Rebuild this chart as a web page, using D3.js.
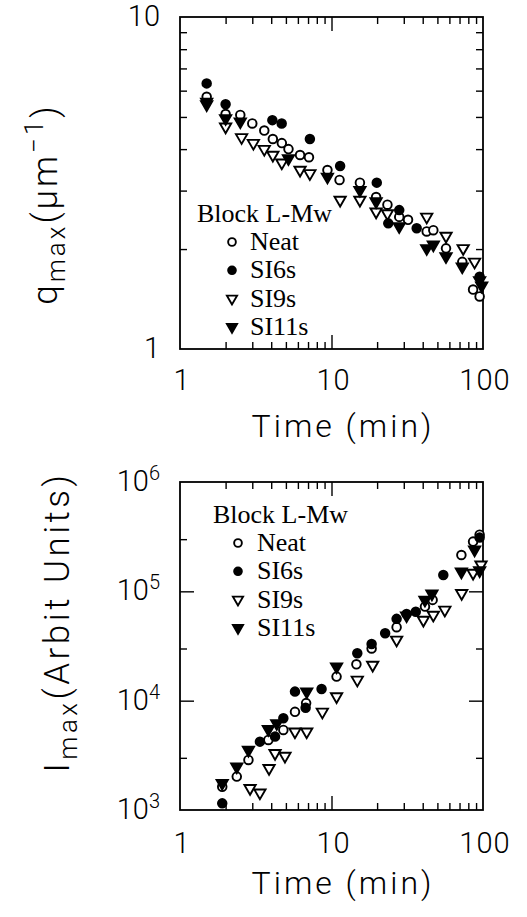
<!DOCTYPE html>
<html>
<head>
<meta charset="utf-8">
<script src="https://cdn.jsdelivr.net/npm/d3@7/dist/d3.min.js"></script>
<style>
  body { margin: 0; background: #fff; }
  text { fill: #000; }
</style>
</head>
<body>
<svg id="chart" width="527" height="917"></svg>
<script>
// top panel: [time (min), q_max (um^-1)]
const qNeat = [[1.5,5.75],[2,5.1],[2.5,5.07],[3,4.78],[3.6,4.55],[4.1,4.29],[4.7,4.17],[5.2,4.0],[6.2,3.84],[7.1,3.78],[9.4,3.46],[11.3,3.23],[15.4,3.17],[19.7,2.87],[23.4,2.72],[28,2.5],[32,2.45],[42.5,2.26],[47,2.28],[57,2.01],[73,1.83],[86,1.51],[95,1.44]];
const qSI6s = [[1.5,6.31],[2,5.46],[4.07,4.89],[4.69,4.78],[7.2,4.29],[11.4,3.56],[19.9,3.17],[23.7,2.39],[28,2.62],[36.5,2.31],[95,1.65]];
const qSI9s = [[1.5,5.45],[2,4.67],[2.55,4.34],[3.05,4.17],[3.6,4.0],[4.1,3.84],[4.7,3.64],[6.2,3.46],[7.2,3.38],[11.4,2.81],[15.4,2.81],[19.7,2.59],[23.4,2.56],[42.5,2.5],[57,2.19],[74,2.01],[88,1.83]];
const qSI11s = [[1.5,5.55],[2,4.95],[2.5,4.84],[5.2,3.75],[9.4,3.3],[15.4,3.01],[19.7,2.78],[28,2.34],[42.5,2.01],[47,2.06],[57,1.9],[73,1.77],[95,1.61],[98,1.55]];

// bottom panel: [time (min), I_max (arbit units)]
const iNeat = [[1.9,1630],[2.37,2020],[2.83,2870],[3.83,4370],[4.81,5400],[5.74,7900],[6.8,9500],[10.8,16600],[14.6,21500],[18.4,30000],[26.9,47000],[41.4,72500],[46.5,83500],[72,215000],[86,285000],[95,330000]];
const iSI6s = [[1.9,1150],[3.37,4220],[4.24,4690],[4.81,6900],[5.74,12100],[6.75,8600],[8.6,12800],[14.8,27100],[18.4,33000],[22.6,41400],[26.9,56000],[31.3,62000],[36,65000],[54.7,141000],[95,310000]];
const iSI9s = [[2.9,1580],[3.37,1440],[3.87,2410],[4.24,3300],[4.93,3120],[5.74,5200],[6.86,5200],[8.7,7900],[10.8,10900],[14.8,15500],[18.7,21200],[26.9,36000],[40.4,54700],[47,60800],[56,67600],[72.3,96000],[86,147000],[97,175000]];
const iSI11s = [[1.9,1760],[2.37,2490],[2.83,3540],[3.83,5470],[4.35,6200],[6.86,12100],[10.8,20500],[31.3,60000],[41.4,83500],[46,95000],[72,151000],[88,240000],[95,155000]];

const seriesNames = ["Neat", "SI6s", "SI9s", "SI11s"];
const seriesShapes = ["circle", "circle", "triangle", "triangle"];
const seriesFilled = [false, true, false, true];
const legendTitle = "Block L-Mw";

const xTickLabels = [1, 10, 100];
const xMinor = [2,3,4,5,6,7,8,9,20,30,40,50,60,70,80,90];
const xMajor = [10];
const qTickLabels = [1, 10];
const qMinor = [2,3,4,5,6,7,8,9];
const iTickLabels = [1e3, 1e4, 1e5, 1e6];
const iMinor = [3e3, 3e4, 3e5];
const iMajor = [1e4, 1e5];

const svg = d3.select("#chart");
const sans = "Roboto, 'Liberation Sans', Arial, sans-serif";
const serif = "'Liberation Serif', 'Times New Roman', serif";

function marker(g, shape, filled, x, y, s) {
  if (shape === "circle") {
    g.append("circle")
      .attr("cx", x).attr("cy", y).attr("r", 4.3 * s)
      .attr("fill", filled ? "#000" : "#fff")
      .attr("stroke", "#000").attr("stroke-width", 1.9);
  } else {
    g.append("path")
      .attr("d", d3.symbol(d3.symbolTriangle, 55 * s * s)())
      .attr("transform", `translate(${x},${y}) rotate(180)`)
      .attr("fill", filled ? "#000" : "#fff")
      .attr("stroke", "#000").attr("stroke-width", 1.9)
      .attr("stroke-linejoin", "miter");
  }
}

function drawPanel(p) {
  const x = d3.scaleLog().domain([1, 100]).range([180, 483]);
  const y = d3.scaleLog().domain(p.yDomain).range([p.bottom, p.top]);
  const g = svg.append("g");

  // inward ticks on all four sides
  const tick = (axis, tf) => g.append("g").attr("transform", tf).call(axis)
    .call(a => a.select(".domain").remove())
    .call(a => a.selectAll("line").attr("stroke", "#000").attr("stroke-width", 1.4))
    .call(a => a.selectAll("text").remove());
  [[xMinor, 7], [xMajor, 14]].forEach(([vals, len]) => {
    tick(d3.axisBottom(x).tickValues(vals).tickSize(-len), `translate(0,${p.bottom})`);
    tick(d3.axisTop(x).tickValues(vals).tickSize(-len), `translate(0,${p.top})`);
  });
  [[p.yMinor, 7], [p.yMajor, 14]].forEach(([vals, len]) => {
    if (!vals.length) return;
    tick(d3.axisLeft(y).tickValues(vals).tickSize(-len), `translate(180,0)`);
    tick(d3.axisRight(y).tickValues(vals).tickSize(-len), `translate(483,0)`);
  });

  g.append("rect")
    .attr("x", 180).attr("y", p.top)
    .attr("width", 303).attr("height", p.bottom - p.top)
    .attr("fill", "none").attr("stroke", "#000").attr("stroke-width", 1.8);

  // x tick labels
  g.selectAll(".xl").data(xTickLabels).enter().append("text")
    .attr("x", d => x(d) + 2).attr("y", p.bottom + p.xLabelOff)
    .attr("text-anchor", "middle")
    .style("font-family", sans).style("font-weight", 300)
    .style("font-size", "29px").style("letter-spacing", "1px")
    .text(d => d);

  g.append("text")
    .attr("x", 343).attr("y", p.bottom + p.xTitleOff)
    .attr("text-anchor", "middle")
    .style("font-family", sans).style("font-weight", 300)
    .style("font-size", "32px").style("letter-spacing", "3px")
    .text("Time (min)");

  // y tick labels
  p.yTickLabels.forEach(v => {
    const t = g.append("text")
      .attr("x", 160).attr("y", y(v) + 9)
      .attr("text-anchor", "end")
      .style("font-family", sans).style("font-weight", 300).style("font-size", "29px");
    if (p.power) {
      t.append("tspan").text("10");
      t.append("tspan").attr("dy", -11).style("font-size", "20px").text(Math.round(Math.log10(v)));
    } else {
      t.text(v);
    }
  });

  // y axis title
  const yt = g.append("text")
    .attr("transform", `translate(${p.yTitleX},${p.yTitleY}) rotate(-90)`)
    .attr("text-anchor", "middle")
    .style("font-family", sans).style("font-weight", 300)
    .style("font-size", "35px").style("letter-spacing", p.yTitleSpacing);
  p.yTitle(yt);

  // data
  const pts = g.append("g");
  p.series.forEach((data, i) => {
    data.forEach(d => marker(pts, seriesShapes[i], seriesFilled[i], x(d[0]), y(d[1]), 1));
  });

  // legend
  const lg = g.append("g");
  lg.append("text")
    .attr("x", p.legend.x).attr("y", p.legend.y)
    .style("font-family", serif).style("font-size", "26px")
    .text(legendTitle);
  seriesNames.forEach((name, i) => {
    const by = p.legend.y + 28 + i * 28.3;
    marker(lg, seriesShapes[i], seriesFilled[i], p.legend.mx, by - 8, 0.9);
    lg.append("text")
      .attr("x", p.legend.tx).attr("y", by)
      .style("font-family", serif).style("font-size", "26px")
      .text(name);
  });
}

drawPanel({
  top: 17, bottom: 349, yDomain: [1, 10],
  yMinor: qMinor, yMajor: [],
  yTickLabels: qTickLabels, power: false,
  series: [qNeat, qSI6s, qSI9s, qSI11s],
  xLabelOff: 41, xTitleOff: 88,
  yTitleX: 57, yTitleY: 204, yTitleSpacing: "3px",
  yTitle: t => {
    t.append("tspan").text("q");
    t.append("tspan").attr("dy", 8).style("font-size", "26px").text("max");
    t.append("tspan").attr("dy", -8).text("(\u03bcm");
    t.append("tspan").attr("dy", -14).style("font-size", "26px").text("\u22121");
    t.append("tspan").attr("dy", 14).text(")");
  },
  legend: { x: 197, y: 222, mx: 232, tx: 250 }
});

drawPanel({
  top: 482, bottom: 810, yDomain: [1e3, 1e6],
  yMinor: iMinor, yMajor: iMajor,
  yTickLabels: iTickLabels, power: true,
  series: [iNeat, iSI6s, iSI9s, iSI11s],
  xLabelOff: 43, xTitleOff: 84,
  yTitleX: 69, yTitleY: 622, yTitleSpacing: "3.5px",
  yTitle: t => {
    t.append("tspan").text("I");
    t.append("tspan").attr("dy", 8).style("font-size", "26px").text("max");
    t.append("tspan").attr("dy", -8).text("(Arbit Units)");
  },
  legend: { x: 213, y: 523, mx: 238, tx: 257 }
});
</script>
</body>
</html>
